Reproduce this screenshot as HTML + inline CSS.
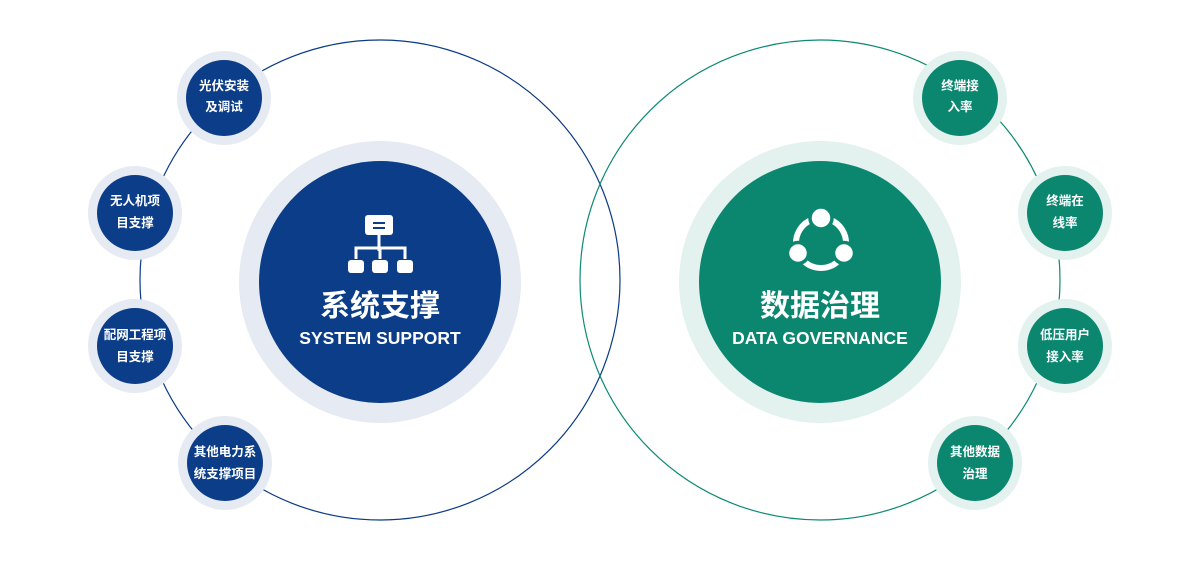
<!DOCTYPE html>
<html><head><meta charset="utf-8"><style>
body{margin:0;width:1200px;height:560px;background:#fff;overflow:hidden}
svg text{font-family:"Liberation Sans","Noto Sans CJK SC",sans-serif;fill:#fff;font-weight:bold;text-anchor:middle}
</style></head><body>
<svg width="1200" height="560" viewBox="0 0 1200 560">
<circle cx="380" cy="280" r="240" fill="none" stroke="#0b3a86" stroke-width="1.2"/>
<circle cx="820" cy="280" r="240" fill="none" stroke="#0d8a72" stroke-width="1.2"/>
<circle cx="380" cy="282" r="141" fill="#e5eaf3"/>
<circle cx="380" cy="282" r="121" fill="#0b3d88"/>
<circle cx="820" cy="282" r="141" fill="#e3f2ee"/>
<circle cx="820" cy="282" r="121" fill="#0b8770"/>
<g fill="#fff">
<rect x="365" y="215" width="28" height="20" rx="3"/>
<rect x="348" y="260" width="16" height="13" rx="3"/>
<rect x="372" y="260" width="16" height="13" rx="3"/>
<rect x="397" y="260" width="16" height="13" rx="3"/>
</g>
<rect x="373" y="222" width="12" height="2" fill="#0b3d88"/><rect x="373" y="227" width="12" height="2" fill="#0b3d88"/>
<path d="M379 235V251M356 259V248H405V259M380 248V259" stroke="#fff" stroke-width="3" fill="none"/>
<g stroke="#fff" stroke-width="6" fill="none">
<path d="M830.4 219.8 A25 25 0 0 1 846 244.3"/>
<path d="M839.3 260 A25 25 0 0 1 802.7 260"/>
<path d="M796 244.3 A25 25 0 0 1 811.6 219.8"/>
</g>
<g fill="#fff" stroke="#0b8770" stroke-width="3.5">
<circle cx="821" cy="218" r="11"/>
<circle cx="798" cy="253" r="10.5"/>
<circle cx="844" cy="253" r="10.5"/>
</g>
<text x="380" y="316" font-size="30">系统支撑</text>
<text x="380" y="344" font-size="17.5">SYSTEM SUPPORT</text>
<text x="820" y="316" font-size="30">数据治理</text>
<text x="820" y="344" font-size="17.5">DATA GOVERNANCE</text>
<g font-size="12.5">
<circle cx="224" cy="98" r="47" fill="#e5eaf3"/><circle cx="224" cy="98" r="38" fill="#0b3d88"/>
<text x="224" y="90">光伏安装</text><text x="224" y="111">及调试</text>
<circle cx="135" cy="213" r="47" fill="#e5eaf3"/><circle cx="135" cy="213" r="38" fill="#0b3d88"/>
<text x="135" y="205">无人机项</text><text x="135" y="227">目支撑</text>
<circle cx="135" cy="346" r="47" fill="#e5eaf3"/><circle cx="135" cy="346" r="38" fill="#0b3d88"/>
<text x="135" y="339">配网工程项</text><text x="135" y="361">目支撑</text>
<circle cx="225" cy="463" r="47" fill="#e5eaf3"/><circle cx="225" cy="463" r="38" fill="#0b3d88"/>
<text x="225" y="456">其他电力系</text><text x="225" y="478">统支撑项目</text>
<circle cx="960" cy="98" r="47" fill="#e3f2ee"/><circle cx="960" cy="98" r="38" fill="#0b8770"/>
<text x="960" y="90">终端接</text><text x="960" y="111">入率</text>
<circle cx="1065" cy="213" r="47" fill="#e3f2ee"/><circle cx="1065" cy="213" r="38" fill="#0b8770"/>
<text x="1065" y="205">终端在</text><text x="1065" y="227">线率</text>
<circle cx="1065" cy="346" r="47" fill="#e3f2ee"/><circle cx="1065" cy="346" r="38" fill="#0b8770"/>
<text x="1065" y="339">低压用户</text><text x="1065" y="361">接入率</text>
<circle cx="975" cy="463" r="47" fill="#e3f2ee"/><circle cx="975" cy="463" r="38" fill="#0b8770"/>
<text x="975" y="456">其他数据</text><text x="975" y="478">治理</text>
</g>
</svg>
</body></html>
